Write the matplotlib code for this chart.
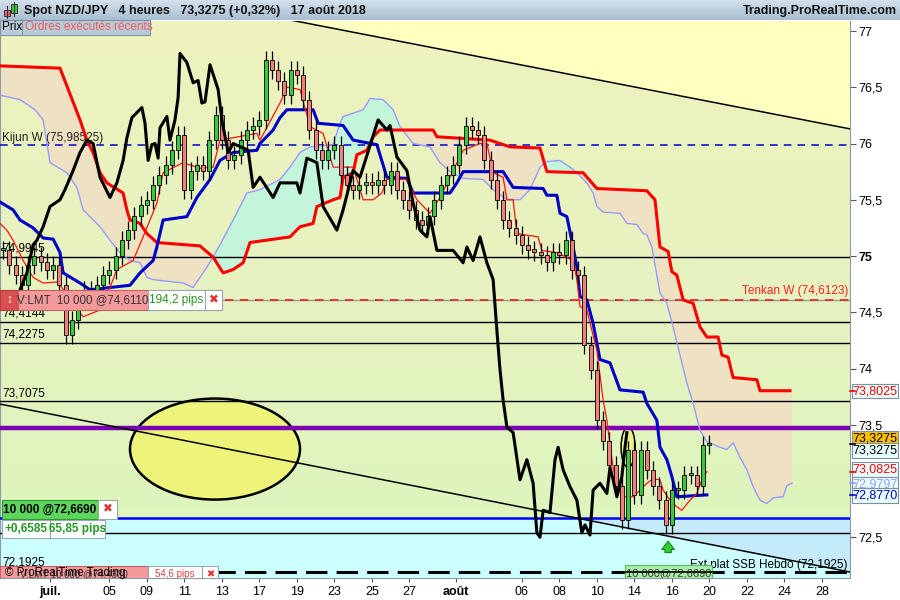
import numpy as np
import matplotlib
matplotlib.use('Agg')
import matplotlib.pyplot as plt
from matplotlib.patches import Ellipse, Rectangle
from matplotlib.colors import LinearSegmentedColormap
from matplotlib import transforms

plt.rcParams['font.family'] = ['Liberation Sans', 'DejaVu Sans']

# ---- data: x in 4h bars, y in JPY ----
close = [75.05, 74.92, 74.83, 74.74, 74.92, 75.00, 74.95, 74.88, 74.92, 74.74,
         74.30, 74.43, 74.60, 74.70, 74.65, 74.74, 74.83, 74.88, 75.00, 75.14,
         75.23, 75.36, 75.45, 75.50, 75.63, 75.72, 75.81, 75.94, 76.08, 75.59,
         75.76, 75.81, 75.76, 76.03, 76.25, 76.03, 75.85, 75.90, 76.03, 76.12,
         76.16, 76.21, 76.74, 76.65, 76.56, 76.43, 76.65, 76.61, 76.39, 76.12,
         75.94, 75.85, 75.94, 75.99, 75.72, 75.63, 75.59, 75.63, 75.66, 75.63,
         75.68, 75.63, 75.76, 75.59, 75.50, 75.41, 75.32, 75.28, 75.36, 75.50,
         75.63, 75.72, 75.81, 75.99, 76.16, 76.12, 76.08, 75.85, 75.68, 75.50,
         75.32, 75.25, 75.19, 75.10, 75.05, 75.04, 75.01, 74.95, 75.04, 75.01,
         75.14, 74.88, 74.83, 74.21, 73.99, 73.54, 73.36, 73.14, 72.96, 72.65,
         73.28, 72.88, 73.28, 73.10, 72.96, 72.83, 72.61, 72.92, 72.92, 73.05,
         73.05, 72.96, 73.32, 73.33]

kijun_x = [0, 4.2, 6.4, 10.6, 13.8, 17, 19.2, 20.2, 25.6, 28.8, 41.6, 44.8, 49, 50.2, 52.2,
           59.8, 63, 67.2, 70.4, 74.6, 82.2, 83.2, 87.4, 89.6, 91.8, 100.2, 101.8, 109.8,
           113, 120.6, 123.8, 130.2, 132.2, 144, 146.2, 148.2, 161, 164.2, 173.8, 175,
           178.2, 179.2, 181.4, 183.4, 184.6, 185.6, 187.8, 189.8, 192, 195.2, 198.4,
           205.8, 207, 210.2, 211.2, 213.4, 215, 216.6, 226.2]
kijun = [75.48, 75.41, 75.32, 75.25, 75.16, 75.15, 75.03, 74.85, 74.76, 74.70, 74.74, 74.85,
         74.96, 75.08, 75.32, 75.35, 75.52, 75.68, 75.85, 75.92, 75.94, 76.00, 76.12, 76.23,
         76.30, 76.30, 76.18, 76.16, 76.03, 75.99, 75.70, 75.69, 75.56, 75.56, 75.65, 75.75,
         75.75, 75.61, 75.60, 75.54, 75.54, 75.38, 75.35, 75.08, 74.90, 74.64, 74.61, 74.40,
         74.08, 74.05, 73.81, 73.79, 73.69, 73.54, 73.30, 73.19, 73.04, 72.86, 72.877]

tenkan_x = [0, 2.2, 4.2, 7.4, 10.6, 13.8, 18.6, 22.4, 26.6, 32, 35.2, 37.4, 42.6, 45.8, 50.2,
            52.2, 58.6, 64, 68.2, 70.4, 82.2, 83.2, 89.6, 91.8, 96, 99.2, 103.4, 106.6, 113,
            116.2, 119.4, 122.2, 123.8, 130.2, 133.4, 137.6, 140.8, 145, 148.2, 153.6, 155.8,
            157.8, 161, 162.2, 164.2, 165.4, 172.2, 173.4, 178.2, 183.4, 184.6, 185.6, 187.8,
            191, 193, 194.2, 196.2, 197.4, 199.4, 202.6, 204.8, 207, 209, 211.2, 212.2, 214.4,
            216.6, 218.2, 220.8, 223, 225, 226.2]
tenkan = [75.29, 75.23, 75.14, 74.96, 74.81, 74.76, 74.77, 74.61, 74.46, 74.52, 74.72, 74.88,
          74.96, 75.17, 75.47, 75.74, 75.83, 75.78, 75.79, 76.03, 76.09, 76.03, 76.36, 76.50,
          76.48, 76.15, 76.09, 75.79, 75.79, 75.50, 75.50, 75.56, 75.68, 75.68, 75.50, 75.38,
          75.52, 75.76, 75.94, 76.00, 76.00, 75.74, 75.70, 75.50, 75.50, 75.20, 75.17, 75.05,
          75.03, 74.96, 74.79, 74.55, 74.52, 74.16, 73.72, 73.54, 73.12, 72.95, 72.86, 72.86,
          72.92, 72.98, 73.02, 73.01, 72.92, 72.83, 72.77, 72.74, 72.83, 72.89, 73.04, 73.0825]

ssb_x = [0, 19.2, 25.6, 27.8, 29.8, 32, 34.2, 39.4, 40.6, 41.6, 44.8, 47, 50.2, 64, 68.2, 71.4,
         74.6, 77.8, 80, 92.8, 96, 100.2, 101.4, 106.6, 108.8, 109.8, 113, 114.2, 117.4, 119.4,
         121.6, 138.6, 139.8, 156.8, 163.2, 172.8, 175, 186.6, 191, 207, 209.6, 211.2, 213.8,
         215, 216.6, 218.6, 221.8, 224, 226.2, 229.8, 231, 233, 234.6, 242.2, 243.2, 252.8]
ssb = [76.69, 76.67, 76.21, 76.03, 75.92, 75.74, 75.65, 75.56, 75.41, 75.32, 75.29, 75.20,
       75.12, 75.09, 74.99, 74.85, 74.88, 74.94, 75.12, 75.17, 75.26, 75.29, 75.44, 75.50,
       75.52, 75.70, 75.74, 75.90, 75.94, 76.06, 76.12, 76.12, 76.06, 76.03, 75.97, 75.96,
       75.75, 75.74, 75.60, 75.58, 75.50, 75.08, 75.04, 74.86, 74.83, 74.61, 74.58, 74.37,
       74.28, 74.28, 74.12, 74.10, 73.92, 73.90, 73.8025, 73.8025]

ssa_x = [0, 6.4, 11.2, 13.8, 16, 21.4, 24.6, 26.6, 32, 35.2, 38.4, 41.6, 44.8, 47, 49, 58.6,
         61.8, 66.2, 68.2, 70.4, 74.6, 79, 83.2, 89.6, 92.8, 96, 99.2, 106.6, 108.8, 109.8,
         116.2, 118.4, 122.6, 125.8, 128, 132.2, 137.6, 140.8, 144, 148.2, 154.6, 157.8, 162.2,
         166.4, 169.6, 172.8, 175, 179.2, 182.4, 184.6, 187.8, 189.8, 191, 193, 198.4, 200.6,
         203.8, 205.8, 207, 208.6, 211.2, 213.4, 215.4, 219.8, 221.8, 224, 226.2, 230.4, 232.6,
         234.6, 236.8, 239, 241, 243.2, 245.4, 247.4, 250.6, 251.8, 253.4]
ssa = [76.43, 76.39, 76.30, 76.21, 75.83, 75.74, 75.61, 75.41, 75.26, 75.14, 75.03, 74.96,
       74.94, 74.81, 74.79, 74.76, 74.72, 74.90, 74.99, 75.10, 75.32, 75.56, 75.59, 75.68,
       75.79, 75.92, 75.97, 75.99, 76.18, 76.24, 76.30, 76.40, 76.39, 76.30, 76.15, 76.00,
       75.97, 75.83, 75.75, 75.69, 75.68, 75.59, 75.50, 75.50, 75.59, 75.79, 75.84, 75.85,
       75.79, 75.74, 75.65, 75.56, 75.44, 75.39, 75.38, 75.29, 75.28, 75.20, 75.19, 75.08,
       74.67, 74.58, 74.37, 73.87, 73.69, 73.45, 73.35, 73.30, 73.28, 73.34, 73.21, 73.10,
       72.95, 72.83, 72.80, 72.85, 72.86, 72.96, 72.9797]

chikou_x = [6.4, 8.6, 10.6, 11.8, 13.8, 16, 19.2, 20.8, 23.4, 25.6, 27.8, 29.8, 32, 35.2, 37.4,
            39.4, 40.6, 42.2, 45.4, 46.4, 47.4, 48.6, 49.6, 50.6, 51.2, 53.4, 54.4, 56, 57,
            57.6, 59.8, 61.8, 63.4, 64.6, 65.6, 67.2, 69.8, 71, 73, 74.6, 79.4, 81, 83.2, 87.4,
            89.6, 95, 96, 98.2, 101.4, 103.4, 107.8, 109.8, 113, 115.2, 121, 123.8, 124.8, 127,
            130.2, 132.2, 134.4, 136.6, 137.6, 139.8, 145, 148.2, 149.4, 151.4, 153.6, 155.8,
            157.8, 159, 160, 161, 162.2, 164.2, 166.4, 168.6, 170.6, 171.8, 172.8, 173.8, 176,
            177.6, 178.6, 180.2, 182.4, 184.6, 186.2, 187.2, 188.8, 189.8, 192, 194.2, 195.2,
            196.2, 197.4, 199, 200, 200.6]
chikou = [74.70, 74.85, 75.10, 75.14, 75.26, 75.44, 75.50, 75.59, 75.76, 75.92, 76.03, 76.00,
          75.70, 75.52, 75.65, 75.85, 76.05, 76.23, 76.32, 76.18, 75.85, 75.99, 76.00, 75.87,
          76.14, 76.24, 76.03, 76.21, 76.41, 76.80, 76.72, 76.54, 76.56, 76.36, 76.37, 76.70,
          76.48, 76.21, 75.92, 76.00, 75.94, 75.61, 75.70, 75.52, 75.65, 75.65, 75.56, 75.87,
          75.83, 75.44, 75.23, 75.41, 75.76, 75.70, 76.21, 76.12, 76.16, 75.88, 75.76, 75.47,
          75.23, 75.17, 75.35, 75.05, 75.05, 74.94, 75.08, 74.96, 75.17, 74.94, 74.79, 74.34,
          73.99, 73.72, 73.48, 73.43, 73.01, 73.19, 72.98, 72.54, 72.50, 72.74, 72.72, 73.19,
          73.30, 73.10, 72.95, 72.83, 72.54, 72.61, 72.52, 72.92, 72.98, 72.89, 73.12, 73.01,
          72.86, 73.04, 73.30, 73.43]

trend_hi_x, trend_hi = [0, 272], [77.60, 76.13]
trend_lo_x, trend_lo = [0, 272], [73.684, 72.191]

levels = [74.9945, 74.4144, 74.2275, 73.7075, 72.5375]
level_labels = ['74,9945', '74,4144', '74,2275', '73,7075', '']
kijun_w = 75.98525
tenkan_w = 74.6123
ssb_hebdo = 72.1925
purple_level = 73.47
order_buy = 72.669
order_sell = 74.611
last_price = 73.3275

date_ticks = [16, 35, 47, 59, 71, 83, 95, 107, 119, 131, 146, 167, 179, 191, 203, 215, 227, 239, 251, 263]
date_labels = ['juil.', '05', '09', '11', '13', '17', '19', '23', '25', '27', 'août',
               '06', '08', '10', '14', '16', '20', '22', '24', '28']
price_ticks = [72.5, 73.5, 74, 74.5, 75, 75.5, 76, 76.5, 77]

YMIN, YMAX = 72.138, 77.089
XMAX = 272

fig = plt.figure(figsize=(9, 6), dpi=100)
fig.patch.set_facecolor('white')
ax = fig.add_axes([0, 22 / 600, 850 / 900, 557 / 600])
bt = transforms.blended_transform_factory(ax.transAxes, ax.transData)

# background
bg = LinearSegmentedColormap.from_list('bg', ['#EEF3BE', '#E6F2C0', '#DCF6BC'])
ax.imshow(np.linspace(0, 1, 200).reshape(-1, 1), cmap=bg, aspect='auto',
          extent=[0, XMAX, YMIN, YMAX], origin='upper', zorder=0)
xx = np.linspace(0, XMAX, 600)
hi_line = np.interp(xx, trend_hi_x, trend_hi)
lo_line = np.interp(xx, trend_lo_x, trend_lo)
ax.fill_between(xx, hi_line, YMAX + 1, color='#FFFFC0', lw=0, zorder=0.5)
ax.axhspan(YMIN - 1, order_buy, color='#CCFFFF', lw=0, zorder=0.5)
ax.fill_between(xx, lo_line, order_buy, where=lo_line < order_buy, color='#C4EBFA', lw=0, zorder=0.6)

# cloud
cg = np.linspace(0, max(ssa_x[-1], ssb_x[-1]), 1200)
a = np.interp(cg, ssa_x, ssa)
b = np.interp(cg, ssb_x, ssb)
ax.fill_between(cg, a, b, where=a >= b, color='#C2F5DA', lw=0, zorder=1, interpolate=True)
ax.fill_between(cg, a, b, where=a < b, color='#EEE2C2', lw=0, zorder=1, interpolate=True)

# ellipses
ax.add_patch(Ellipse((68.8, 73.284), 54.4, 0.898, fc='#EEF47A', ec='black', lw=1.8, zorder=1.5))
ax.add_patch(Ellipse((201, 73.30), 4.5, 0.356, fc='#EFF08C', ec='black', lw=1.1, zorder=1.5))

# horizontal levels
for lv, lab in zip(levels, level_labels):
    ax.axhline(lv, color='black', lw=1, zorder=3)
    if lab:
        ax.text(2 / 850, lv + 0.02, lab, transform=bt, fontsize=8.5, va='bottom', zorder=3.5)
ax.axhline(ssb_hebdo, color='black', lw=2.2, ls=(0, (7, 3)), zorder=3)
ax.text(2 / 850, ssb_hebdo + 0.03, '72,1925', transform=bt, fontsize=8.5, va='bottom', zorder=3.5)
ax.axhline(purple_level, color='#7A00B4', lw=3.2, zorder=3)
ax.axhline(order_buy, color='#0000FF', lw=1.8, zorder=3)
ax.axhline(kijun_w, color='#0000CC', lw=1.1, ls=(0, (5, 4)), zorder=3)
ax.text(2 / 850, kijun_w + 0.01, 'Kijun W (75,98525)', transform=bt, fontsize=8.5,
        va='bottom', color='#222222', zorder=3.5)
ax.axhline(order_sell, color='#999999', lw=1, zorder=3)
ax.axhline(tenkan_w, color='#DD2222', lw=1.2, ls=(0, (5, 4)), zorder=3.1)
ax.text(848 / 850, tenkan_w + 0.02, 'Tenkan W (74,6123)', transform=bt, fontsize=8.5,
        va='bottom', ha='right', color='#FF2020', zorder=3.5)

# trend lines
ax.plot(trend_hi_x, trend_hi, color='black', lw=1.1, zorder=3)
ax.plot(trend_lo_x, trend_lo, color='black', lw=1.1, zorder=3)

# ichimoku lines
ax.plot(ssa_x, ssa, color='#9A9AFF', lw=1, zorder=4)
ax.plot(ssb_x, ssb, color='#FF0000', lw=2.2, zorder=4)
ax.plot(kijun_x, kijun, color='#0000CC', lw=2.2, zorder=4.2)
ax.plot(tenkan_x, tenkan, color='#FF1010', lw=0.9, zorder=4.3)

# candles
c = np.array(close)
cx = np.arange(len(c)) * 2 + 1
o = np.r_[c[0], c[:-1]]
up = c >= o
lo = np.minimum(o, c)
hi = np.maximum(o, c)
h = np.maximum(hi - lo, 0.02)
wick = 0.08
ax.vlines(cx, lo - wick, hi + wick, color='black', lw=0.9, zorder=5)
ax.bar(cx[up], h[up], bottom=lo[up], width=1.25, color='#3CC83C', edgecolor='black', lw=0.6, zorder=5.5)
ax.bar(cx[~up], h[~up], bottom=lo[~up], width=1.25, color='#F08080', edgecolor='black', lw=0.6, zorder=5.5)

# chikou
ax.plot(chikou_x, chikou, color='black', lw=2.2, zorder=6)

# arrow
ax.annotate('', xy=(213.8, 72.49), xytext=(213.8, 72.34),
            arrowprops=dict(arrowstyle='simple,head_width=0.9,head_length=0.6,tail_width=0.45',
                            fc='#33CC33', ec='#118811', lw=0.8), zorder=7)


def tag(x0, x1, y, hpx, text, fc, ec='#9AA6B2', color='black', weight='normal', size=8.5):
    hh = hpx / 112.5
    ax.add_patch(Rectangle((x0 / 850, y - hh / 2), (x1 - x0) / 850, hh, transform=bt,
                           fc=fc, ec=ec, lw=0.8, zorder=9))
    ax.text((x0 + x1) / 2 / 850, y, text, transform=bt, ha='center', va='center',
            color=color, fontweight=weight, fontsize=size, zorder=10, clip_on=True)


# order tags
tag(0, 18, 74.609, 20, '↕', '#D85050', ec='#B04040', color='white', weight='bold')
tag(18, 148, 74.609, 20, 'V:LMT  10 000 @74,6110', '#F59A9A', ec='#C06060', color='#333333', size=8.3)
tag(148, 205, 74.609, 20, '194,2 pips', 'white', color='#229922')
tag(205, 222, 74.609, 20, '✖', 'white', color='#E03030')
tag(2, 98, 72.747, 19, '10 000 @72,6690', '#5CD65C', ec='#2A9A2A', weight='bold')
tag(98, 117, 72.747, 19, '✖', 'white', color='#E03030')
tag(2, 50, 72.573, 18, '+0,6585', 'white', color='#229922', weight='bold')
tag(50, 105, 72.573, 18, '65,85 pips', 'white', color='#229922', weight='bold')
tag(0, 148, 72.172, 16, 'V:LMT 10 000 @74,4330', '#F59A9A', ec='#C06060', color='#333333', size=7)
tag(148, 202, 72.172, 16, '54,6 pips', 'white', color='#E04040', size=7)
tag(202, 218, 72.172, 16, '✖', 'white', color='#E03030', size=7)
ax.text(5 / 850, 72.185, '© ProRealTime Trading', transform=bt, fontsize=8.3, va='center', zorder=11)
tag(625, 712, 72.185, 16, '10 000@72,6690', '#AAEEAA', ec='#55BB55', color='#333333', size=8)
ax.axhline(ssb_hebdo, xmin=625 / 850, xmax=712 / 850, color='black', lw=1.2, zorder=10.5)
ax.text(848 / 850, 72.25, 'Ext plat SSB Hebdo (72,1925)', transform=bt, fontsize=8.5,
        ha='right', va='center', zorder=8)

# axes setup
ax.set_xlim(0, XMAX)
ax.set_ylim(YMIN, YMAX)
ax.yaxis.tick_right()
ax.set_yticks(price_ticks)
ax.set_yticklabels([('%g' % v).replace('.', ',') for v in price_ticks])
for lab in ax.get_yticklabels():
    if lab.get_text() == '75':
        lab.set_fontweight('bold')
ax.tick_params(axis='y', direction='out', length=4, labelsize=9, pad=2, color='#555555')
ax.set_xticks(date_ticks)
ax.set_xticklabels(date_labels)
for lab in ax.get_xticklabels():
    if lab.get_text() in ('juil.', 'août'):
        lab.set_fontweight('bold')
ax.tick_params(axis='x', direction='out', length=3, labelsize=9, pad=3, color='#555555')
for s in ax.spines.values():
    s.set_color('#8A9AA8')
ax.spines['top'].set_visible(False)

# right price tags
right_tags = [(73.80, '73,8025', '#FF0000', '#E8FFFF'),
              (73.38, '73,3275', 'black', '#FFC000'),
              (73.27, '73,3275', 'black', '#E8FFFF'),
              (73.10, '73,0825', '#FF0000', '#E8FFFF'),
              (72.97, '72,9797', '#9A9AFF', '#E8FFFF'),
              (72.87, '72,8770', '#0000CC', '#E8FFFF')]
for y, txt, col, fc in right_tags:
    ax.add_patch(Rectangle((852 / 850, y - 0.066), 46 / 850, 0.132, transform=bt, fc=fc,
                           ec='#7F8F9F', lw=0.8, zorder=9, clip_on=False))
    ax.text(875 / 850, y, txt, transform=bt, ha='center', va='center', color=col,
            fontsize=9, zorder=10, clip_on=False)
for y, col in [(73.8025, '#FF0000'), (last_price, 'black'), (73.0825, '#FF0000'),
               (72.9797, '#9A9AFF'), (72.877, '#0000CC')]:
    ax.plot([1.0, 1.006], [y, y], transform=bt, color=col, lw=1.2, clip_on=False, zorder=9)

# header bar
hax = fig.add_axes([0, 580 / 600, 1, 20 / 600])
hdr = LinearSegmentedColormap.from_list('hdr', ['#D2E0EC', '#A9BFD1'])
hax.imshow(np.linspace(0, 1, 20).reshape(-1, 1), cmap=hdr, aspect='auto', extent=[0, 900, 20, 0])
hax.set_xlim(0, 900)
hax.set_ylim(20, 0)
hax.axis('off')
hax.plot([7, 7], [6, 18], color='#333333', lw=0.8)
hax.add_patch(Rectangle((4, 10), 6, 6, fc='#F06060', ec='#333333', lw=0.7))
hax.plot([14, 14], [2, 16], color='#333333', lw=0.8)
hax.add_patch(Rectangle((11, 4), 6, 9, fc='#40D040', ec='#333333', lw=0.7))
hax.text(24, 11, 'Spot NZD/JPY   4 heures   73,3275 (+0,32%)   17 août 2018',
         fontsize=9, fontweight='bold', va='center', color='#111111')
hax.text(897, 11, 'Trading.ProRealTime.com', fontsize=9, fontweight='bold',
         va='center', ha='right', color='#111111')

# "Prix" / orders tabs
fig.add_artist(Rectangle((0, 1 - 35 / 600), 22 / 900, 15 / 600, transform=fig.transFigure,
                         fc='#B9CBD8', ec='#7F93A5', lw=0.8, zorder=20))
fig.text(2 / 900, 1 - 27.5 / 600, 'Prix', fontsize=8.5, va='center', zorder=21)
fig.add_artist(Rectangle((22 / 900, 1 - 35 / 600), 128 / 900, 15 / 600, transform=fig.transFigure,
                         fc='#B9CBD8', ec='#7F93A5', lw=0.8, zorder=20))
fig.text(25 / 900, 1 - 27.5 / 600, 'Ordres exécutés récents', fontsize=8.5, va='center',
         color='#F05A5A', zorder=21)

fig.savefig('out.png', dpi=100)
